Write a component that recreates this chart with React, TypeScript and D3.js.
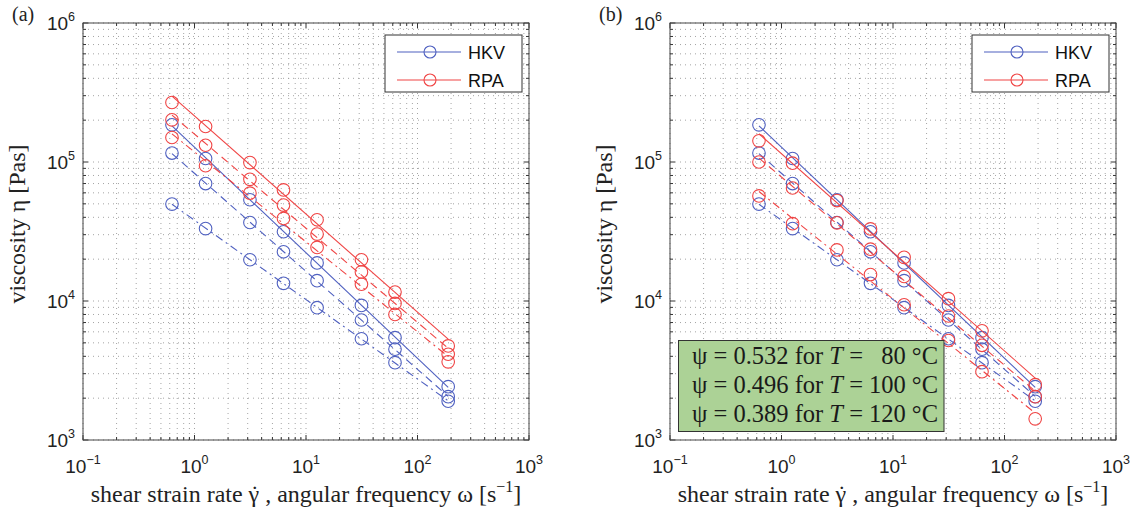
import React from "react";
import * as d3 from "d3";

// ---------- data ----------
const omega = [0.628, 1.257, 3.142, 6.283, 12.57, 31.42, 62.83, 188.5];

// HKV (same in both panels)
const hkv80 = [1.85e5, 1.06e5, 5.35e4, 3.15e4, 1.88e4, 9.3e3, 5.45e3, 2.42e3];
const hkv100 = [1.16e5, 7.0e4, 3.67e4, 2.26e4, 1.40e4, 7.3e3, 4.5e3, 2.05e3];
const hkv120 = [4.98e4, 3.32e4, 1.98e4, 1.34e4, 8.95e3, 5.35e3, 3.6e3, 1.9e3];

// RPA panel (a)
const rpa80a = [2.68e5, 1.80e5, 9.9e4, 6.3e4, 3.84e4, 1.98e4, 1.16e4, 4.75e3];
const rpa100a = [2.01e5, 1.32e5, 7.5e4, 4.9e4, 3.03e4, 1.62e4, 9.6e3, 4.14e3];
const rpa120a = [1.5e5, 9.4e4, 5.97e4, 3.93e4, 2.43e4, 1.32e4, 8.0e3, 3.65e3];

// RPA panel (b)
const rpa80b = [1.42e5, 9.8e4, 5.28e4, 3.3e4, 2.06e4, 1.04e4, 6.1e3, 2.5e3];
const rpa100b = [1.0e5, 6.5e4, 3.65e4, 2.36e4, 1.5e4, 7.8e3, 4.8e3, 2.05e3];
const rpa120b = [5.7e4, 3.6e4, 2.33e4, 1.55e4, 9.4e3, 5.2e3, 3.1e3, 1.42e3];

const xExponents = [-1, 0, 1, 2, 3];
const yExponents = [3, 4, 5, 6];
const legendLabels = ["HKV", "RPA"];
const psiLines = [
  { psi: "0.532", T: "80" },
  { psi: "0.496", T: "100" },
  { psi: "0.389", T: "120" },
];

// ---------- style ----------
const BLUE = "#4f60c0";
const RED = "#f04444";
const SERIF = "'Liberation Serif', 'Times New Roman', serif";
const SANS = "'Liberation Sans', Arial, sans-serif";
const DASH: Record<string, string | undefined> = {
  solid: undefined,
  dash: "8 5",
  dashdot: "8 4 2 4",
};

const L = 83, R = 529, T = 23, B = 440;
const PANEL_DX = 587;

function fitLine(xs: number[], ys: number[]) {
  const lx = xs.map(Math.log10), ly = ys.map(Math.log10);
  const mx = d3.mean(lx)!, my = d3.mean(ly)!;
  let sxy = 0, sxx = 0;
  lx.forEach((v, i) => { sxy += (v - mx) * (ly[i] - my); sxx += (v - mx) * (v - mx); });
  const b = sxy / sxx, a = my - b * mx;
  const f = (x: number) => Math.pow(10, a + b * Math.log10(x));
  return [[xs[0], f(xs[0])], [xs[xs.length - 1], f(xs[xs.length - 1])]];
}

function Panel({ dx, label, rpa, box }: { dx: number; label: string; rpa: number[][]; box: boolean }) {
  const x = d3.scaleLog().domain([0.1, 1000]).range([L + dx, R + dx]);
  const y = d3.scaleLog().domain([1e3, 1e6]).range([B, T]);
  const xl = L + dx, xr = R + dx;

  const xMinor: number[] = [];
  for (let e = -1; e < 3; e++) for (let m = 1; m <= 9; m++) xMinor.push(m * Math.pow(10, e));
  xMinor.push(1000);
  const yMinor: number[] = [];
  for (let e = 3; e < 6; e++) for (let m = 1; m <= 9; m++) yMinor.push(m * Math.pow(10, e));
  yMinor.push(1e6);

  const series = [
    { data: hkv80, color: BLUE, dash: "solid" },
    { data: hkv100, color: BLUE, dash: "dash" },
    { data: hkv120, color: BLUE, dash: "dashdot" },
    { data: rpa[0], color: RED, dash: "solid" },
    { data: rpa[1], color: RED, dash: "dash" },
    { data: rpa[2], color: RED, dash: "dashdot" },
  ];
  const line = d3.line<number[]>().x((d) => x(d[0])).y((d) => y(d[1]));

  const isMajor = (v: number) => Math.abs(Math.log10(v) - Math.round(Math.log10(v))) < 1e-9;

  return (
    <g>
      {/* grid */}
      <g stroke="#9a9a9a" strokeWidth={0.9} strokeDasharray="1 4">
        {xMinor.map((v, i) => (
          <line key={"gx" + i} x1={x(v)} x2={x(v)} y1={T} y2={B} />
        ))}
        {yMinor.map((v, i) => (
          <line key={"gy" + i} x1={xl} x2={xr} y1={y(v)} y2={y(v)} />
        ))}
      </g>
      {/* ticks */}
      <g stroke="#333" strokeWidth={1}>
        {xMinor.map((v, i) => {
          const len = isMajor(v) ? 5 : 3;
          return (
            <g key={"tx" + i}>
              <line x1={x(v)} x2={x(v)} y1={B} y2={B - len} />
              <line x1={x(v)} x2={x(v)} y1={T} y2={T + len} />
            </g>
          );
        })}
        {yMinor.map((v, i) => {
          const len = isMajor(v) ? 5 : 3;
          return (
            <g key={"ty" + i}>
              <line x1={xl} x2={xl + len} y1={y(v)} y2={y(v)} />
              <line x1={xr} x2={xr - len} y1={y(v)} y2={y(v)} />
            </g>
          );
        })}
      </g>
      {/* series */}
      {series.map((s, i) => (
        <g key={"s" + i}>
          <path d={line(fitLine(omega, s.data))!} fill="none" stroke={s.color} strokeWidth={1.1} strokeDasharray={DASH[s.dash]} />
          {s.data.map((v, j) => (
            <circle key={j} cx={x(omega[j])} cy={y(v)} r={6.3} fill="none" stroke={s.color} strokeWidth={1.1} />
          ))}
        </g>
      ))}
      {/* frame */}
      <rect x={xl} y={T} width={xr - xl} height={B - T} fill="none" stroke="#444" strokeWidth={1} />
      {/* tick labels */}
      <g fontFamily={SANS} fontSize={19} fill="#222">
        {xExponents.map((e) => (
          <text key={"xl" + e} x={x(Math.pow(10, e))} y={473} textAnchor="middle">
            10<tspan dy={-9} fontSize={12.5}>{e < 0 ? "\u2212" + -e : e}</tspan>
          </text>
        ))}
        {yExponents.map((e) => (
          <text key={"yl" + e} x={xl - 8} y={y(Math.pow(10, e)) + 7} textAnchor="end">
            10<tspan dy={-9} fontSize={12.5}>{e}</tspan>
          </text>
        ))}
      </g>
      {/* axis labels */}
      <text x={(xl + xr) / 2} y={502} textAnchor="middle" fontFamily={SERIF} fontSize={24} fill="#222">
        shear strain rate {"\u03B3"}<tspan dx={-8.5}>{"\u02D9"}</tspan><tspan dx={0.5}>{" , angular frequency \u03C9 [s"}</tspan><tspan dy={-10} fontSize={16}>{"\u22121"}</tspan><tspan dy={10}>]</tspan>
      </text>
      <text transform={`translate(${25 + dx},224) rotate(-90)`} textAnchor="middle" fontFamily={SERIF} fontSize={24} fill="#222">
        viscosity {"\u03B7"} [Pas]
      </text>
      <text x={12 + dx} y={21} fontFamily={SERIF} fontSize={20} fill="#222">{label}</text>
      {/* legend */}
      <g>
        <rect x={385 + dx} y={35} width={137} height={57} fill="#fff" stroke="#333" strokeWidth={1} />
        {legendLabels.map((lab, i) => {
          const cy = 52 + i * 28;
          const c = i === 0 ? BLUE : RED;
          return (
            <g key={lab}>
              <line x1={397 + dx} x2={461 + dx} y1={cy} y2={cy} stroke={c} strokeWidth={1.1} />
              <circle cx={430 + dx} cy={cy} r={6} fill="none" stroke={c} strokeWidth={1.1} />
              <text x={468 + dx} y={cy + 6.5} fontFamily={SANS} fontSize={18} fill="#111">{lab}</text>
            </g>
          );
        })}
      </g>
      {box && (
        <g>
          <rect x={678.5} y={340.5} width={265.5} height={91} fill="#acd296" stroke="#333" strokeWidth={1} />
          {psiLines.map((p, i) => (
            <g key={p.T} fontFamily={SERIF} fontSize={24.5} fill="#1a1a1a">
              <text x={692} y={364 + i * 28.8}>
                {"\u03C8 = " + p.psi + " for "}<tspan fontStyle="italic">T</tspan>{" ="}
              </text>
              <text x={938} y={364 + i * 28.8} textAnchor="end">{p.T + " \u00B0C"}</text>
            </g>
          ))}
        </g>
      )}
    </g>
  );
}

export default function App() {
  return (
    <div style={{ position: "absolute", left: 0, top: 0 }}>
      <svg width={1134} height={513} viewBox="0 0 1134 513" style={{ display: "block", background: "#fff" }}>
        <Panel dx={0} label="(a)" rpa={[rpa80a, rpa100a, rpa120a]} box={false} />
        <Panel dx={PANEL_DX} label="(b)" rpa={[rpa80b, rpa100b, rpa120b]} box={true} />
      </svg>
    </div>
  );
}
